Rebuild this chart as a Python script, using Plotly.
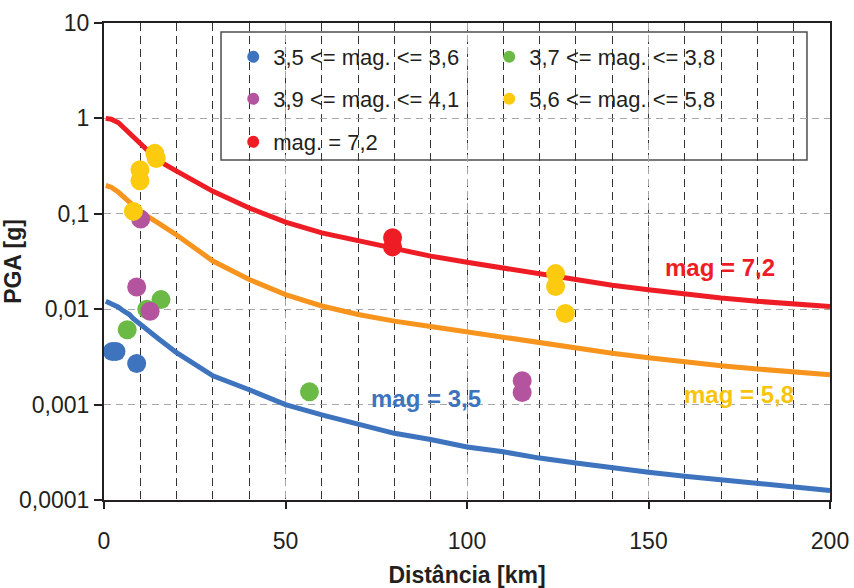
import numpy as np
import plotly.graph_objects as go

# Attenuation curves: PGA [g] versus distance [km]
dist_m72 = [0.5, 2, 4, 6, 8, 10, 15, 20, 30, 40, 50, 60, 70, 80, 90, 100,
            110, 120, 130, 140, 150, 160, 170, 180, 190, 200]
pga_m72 = [1.0, 0.98, 0.90, 0.76, 0.63, 0.53, 0.36, 0.28, 0.172, 0.115, 0.082,
           0.063, 0.052, 0.044, 0.036, 0.031, 0.027, 0.023, 0.0199, 0.0178,
           0.016, 0.0143, 0.0131, 0.0121, 0.0114, 0.0107]

dist_m58 = [0.5, 2, 4, 6, 8, 10, 15, 20, 30, 40, 50, 60, 70, 80, 90, 100,
            110, 120, 130, 140, 150, 160, 170, 180, 190, 200]
pga_m58 = [0.198, 0.19, 0.168, 0.145, 0.122, 0.105, 0.080, 0.060, 0.032,
           0.0205, 0.0142, 0.0108, 0.0088, 0.0075, 0.0066, 0.0058, 0.0050,
           0.0044, 0.0039, 0.00345, 0.0031, 0.00278, 0.00255, 0.00236,
           0.0022, 0.00206]

dist_m35 = [0.5, 2, 3, 4, 5, 6, 7, 8, 10, 15, 20, 30, 40, 50, 60, 70, 80, 90,
            100, 110, 120, 130, 140, 150, 160, 170, 180, 190, 200]
pga_m35 = [0.0121, 0.0115, 0.0112, 0.0105, 0.0098, 0.0093, 0.0088, 0.0080,
           0.0069, 0.0049, 0.0035, 0.0020, 0.00143, 0.0010, 0.00078, 0.00062,
           0.00050, 0.00043, 0.00036, 0.00032, 0.000275, 0.000244, 0.000216,
           0.000195, 0.000177, 0.000163, 0.000148, 0.000139, 0.000126]

# Recorded events grouped by magnitude range
dist_g1 = [2.3, 3.3, 9.0]
pga_g1 = [0.0036, 0.0036, 0.0027]
dist_g2 = [6.4, 11.8, 15.7, 56.6]
pga_g2 = [0.0061, 0.0100, 0.0126, 0.00136]
dist_g3 = [10.1, 9.0, 12.7, 115.2, 115.2]
pga_g3 = [0.088, 0.0171, 0.0095, 0.00178, 0.00134]
dist_g4 = [8.1, 9.9, 9.9, 14.0, 14.4, 124.4, 124.4, 127.1]
pga_g4 = [0.106, 0.29, 0.222, 0.43, 0.38, 0.0236, 0.0173, 0.0090]
dist_g5 = [79.5, 79.5]
pga_g5 = [0.056, 0.045]

group_names = ["3,5 <= mag. <= 3,6", "3,7 <= mag. <= 3,8",
               "3,9 <= mag. <= 4,1", "5,6 <= mag. <= 5,8", "mag. = 7,2"]

y_ticks = [10, 1, 0.1, 0.01, 0.001, 0.0001]
y_ticktext = ["10", "1", "0,1", "0,01", "0,001", "0,0001"]
x_ticks = [0, 50, 100, 150, 200]

BLUE = "#3E73BD"
GREEN = "#6BBA45"
PURPLE = "#B5549E"
YELLOW = "#FCCB10"
RED = "#EE1D25"
ORANGE = "#F7941D"
LABEL_GOLD = "#F9C40F"
INK = "#231F20"
FONT = "Liberation Sans, Arial, sans-serif"

fig = go.Figure()

for xs, ys, col in [(dist_m72, pga_m72, RED),
                    (dist_m58, pga_m58, ORANGE),
                    (dist_m35, pga_m35, BLUE)]:
    fig.add_trace(go.Scatter(x=xs, y=ys, mode="lines",
                             line=dict(color=col, width=5),
                             showlegend=False, hoverinfo="skip"))

groups = [(dist_g1, pga_g1, BLUE, "legend"),
          (dist_g2, pga_g2, GREEN, "legend"),
          (dist_g3, pga_g3, PURPLE, "legend2"),
          (dist_g4, pga_g4, YELLOW, "legend2"),
          (dist_g5, pga_g5, RED, "legend3")]
for (xs, ys, col, leg), name in zip(groups, group_names):
    fig.add_trace(go.Scatter(x=xs, y=ys, mode="markers", name=name,
                             marker=dict(color=col, size=19,
                                         line=dict(width=0)),
                             legend=leg))

# curve labels
for text, x, y, col in [("mag = 7,2", 169.7, 0.0272, RED),
                        ("mag = 5,8", 175.0, 0.00127, LABEL_GOLD),
                        ("mag = 3,5", 88.7, 0.00115, BLUE)]:
    fig.add_annotation(x=x, y=np.log10(y), xref="x", yref="y", text=f"<b>{text}</b>",
                       showarrow=False,
                       font=dict(family=FONT, size=24, color=col))

# legend frame
fig.add_shape(type="rect", xref="paper", yref="paper",
              x0=0.1612, x1=0.9683, y0=0.7128, y1=0.9811,
              fillcolor="white", line=dict(color="#4D4D4D", width=1.5),
              layer="between")

legend_common = dict(orientation="h", xanchor="left", yanchor="middle",
                     bgcolor="rgba(0,0,0,0)", borderwidth=0,
                     entrywidth=211, entrywidthmode="pixels",
                     itemsizing="constant",
                     font=dict(family=FONT, size=22, color=INK))

fig.update_layout(
    width=854, height=588,
    margin=dict(l=104, r=24, t=23, b=88),
    paper_bgcolor="white", plot_bgcolor="white",
    font=dict(family=FONT, color=INK),
    legend=dict(x=0.178, y=0.9287, **legend_common),
    legend2=dict(x=0.178, y=0.8407, **legend_common),
    legend3=dict(x=0.178, y=0.7505, **legend_common),
    xaxis=dict(
        range=[0, 200], tickmode="array", tickvals=x_ticks, automargin=False,
        ticks="outside", ticklen=7, tickwidth=1.5, tickcolor=INK,
        showline=True, linecolor=INK, linewidth=2, mirror=True,
        showgrid=True, gridcolor="#A6A6A6", griddash="7px,5px", gridwidth=1,
        minor=dict(dtick=10, showgrid=True, gridcolor="#333333",
                   griddash="8px,5px", gridwidth=1),
        tickfont=dict(family=FONT, size=23, color=INK),
        ticklabelstandoff=12,
        title=dict(text="<b>Distância [km]</b>", standoff=18,
                   font=dict(family=FONT, size=23, color=INK)),
        zeroline=False,
    ),
    xaxis2=dict(
        range=[0, 200], overlaying="x", side="top", anchor="y",
        automargin=False,
        tickmode="linear", tick0=0, dtick=10, ticks="inside", ticklen=5,
        tickcolor=INK, showticklabels=False, showgrid=False,
        showline=True, linecolor=INK, linewidth=2, zeroline=False,
    ),
    yaxis=dict(
        type="log", range=[-4, 1], tickmode="array", tickvals=y_ticks,
        ticktext=y_ticktext, ticks="outside", ticklen=8, tickwidth=1.5,
        automargin=False,
        tickcolor=INK, showline=True, linecolor=INK, linewidth=2, mirror=True,
        showgrid=True, gridcolor="#A6A6A6", griddash="7px,5px", gridwidth=1,
        tickfont=dict(family=FONT, size=23, color=INK),
        ticklabelstandoff=0,
        title=dict(text="<b>PGA [g]</b>", standoff=0,
                   font=dict(family=FONT, size=23, color=INK)),
        zeroline=False,
    ),
)

fig.write_html("out.html")
